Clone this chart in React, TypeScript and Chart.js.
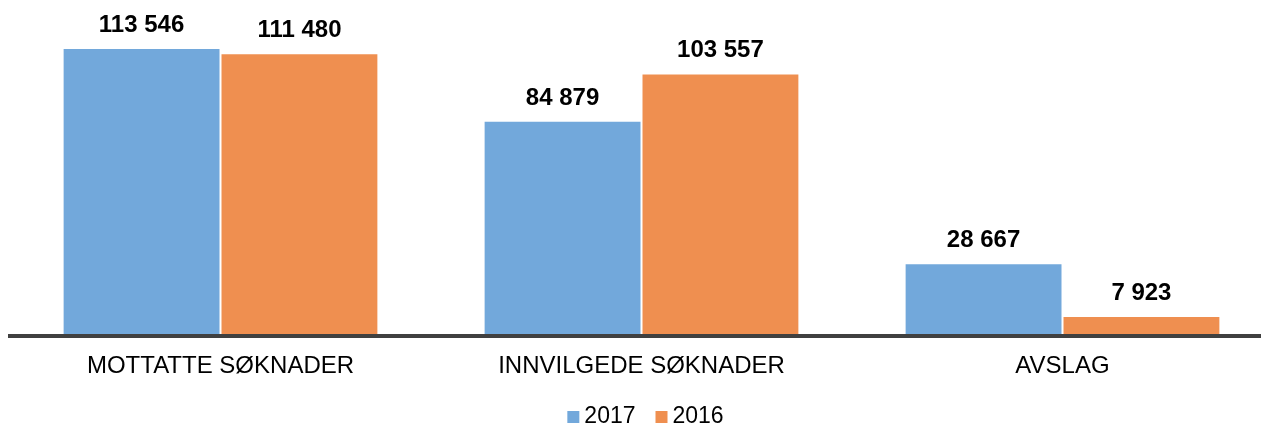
import React, { useEffect, useRef } from "react";
import { Chart, registerables } from "chart.js";

Chart.register(...registerables);

const categories = ["MOTTATTE SØKNADER", "INNVILGEDE SØKNADER", "AVSLAG"];
const seriesNames = ["2017", "2016"];
const values2017 = [113546, 84879, 28667];
const values2016 = [111480, 103557, 7923];
const seriesColors = ["#72A8DB", "#EF8F50"];

const FONT = '"Liberation Sans", Arial, sans-serif';

const fmt = (v: number) => String(v).replace(/\B(?=(\d{3})+(?!\d))/g, " ");

const valueLabels = {
  id: "valueLabels",
  afterDatasetsDraw(chart: any) {
    const ctx = chart.ctx;
    ctx.save();
    ctx.font = `bold 24px ${FONT}`;
    ctx.fillStyle = "#000";
    ctx.textAlign = "center";
    ctx.textBaseline = "alphabetic";
    chart.data.datasets.forEach((ds: any, di: number) => {
      const meta = chart.getDatasetMeta(di);
      meta.data.forEach((bar: any, i: number) => {
        ctx.fillText(fmt(ds.data[i]), bar.x, bar.y - 16);
      });
    });
    ctx.restore();
  },
};

const customLegend = {
  id: "customLegend",
  afterDraw(chart: any) {
    const ctx = chart.ctx;
    ctx.save();
    ctx.font = `23px ${FONT}`;
    ctx.textBaseline = "alphabetic";
    ctx.textAlign = "left";
    const box = 12;
    const gapText = 5;
    const gapItem = 20;
    const items = chart.data.datasets.map((ds: any) => ({
      text: ds.label,
      color: ds.backgroundColor,
      w: ctx.measureText(ds.label).width,
    }));
    const total =
      items.reduce((s: number, it: any) => s + box + gapText + it.w, 0) +
      gapItem * (items.length - 1);
    let x = 645.5 - total / 2;
    const baseline = 423;
    items.forEach((it: any) => {
      ctx.fillStyle = it.color;
      ctx.fillRect(x, baseline - box, box, box);
      x += box + gapText;
      ctx.fillStyle = "#000";
      ctx.fillText(it.text, x, baseline);
      x += it.w + gapItem;
    });
    ctx.restore();
  },
};

export default function App() {
  const ref = useRef<HTMLCanvasElement | null>(null);

  useEffect(() => {
    if (!ref.current) return;
    const chart = new Chart(ref.current, {
      type: "bar",
      data: {
        labels: categories,
        datasets: [
          {
            label: seriesNames[0],
            data: values2017,
            backgroundColor: seriesColors[0],
            borderColor: "rgba(255,255,255,0.6)",
            borderWidth: 1,
            categoryPercentage: 0.75,
            barPercentage: 1.0,
          },
          {
            label: seriesNames[1],
            data: values2016,
            backgroundColor: seriesColors[1],
            borderColor: "rgba(255,255,255,0.6)",
            borderWidth: 1,
            categoryPercentage: 0.75,
            barPercentage: 1.0,
          },
        ],
      },
      options: {
        responsive: false,
        animation: false,
        maintainAspectRatio: false,
        layout: { padding: { left: 10, right: 2, top: 19, bottom: 0 } },
        plugins: {
          legend: { display: false },
          tooltip: { enabled: false },
        },
        scales: {
          x: {
            grid: { display: false, drawTicks: false },
            border: { display: true, color: "#404040", width: 4, z: 1 },
            ticks: {
              color: "#000",
              font: { family: FONT, size: 24 },
              padding: 16,
              maxRotation: 0,
              autoSkip: false,
            },
            afterFit(scale: any) {
              scale.height = 90;
            },
          },
          y: {
            display: false,
            min: 0,
            max: 125000,
          },
        },
      },
      plugins: [valueLabels, customLegend],
    });
    return () => chart.destroy();
  }, []);

  return (
    <div
      style={{
        position: "fixed",
        left: 0,
        top: 0,
        width: 1261,
        height: 426,
        overflow: "hidden",
        background: "#fff",
      }}
    >
      <canvas ref={ref} width={1275} height={426} style={{ display: "block" }} />
    </div>
  );
}
